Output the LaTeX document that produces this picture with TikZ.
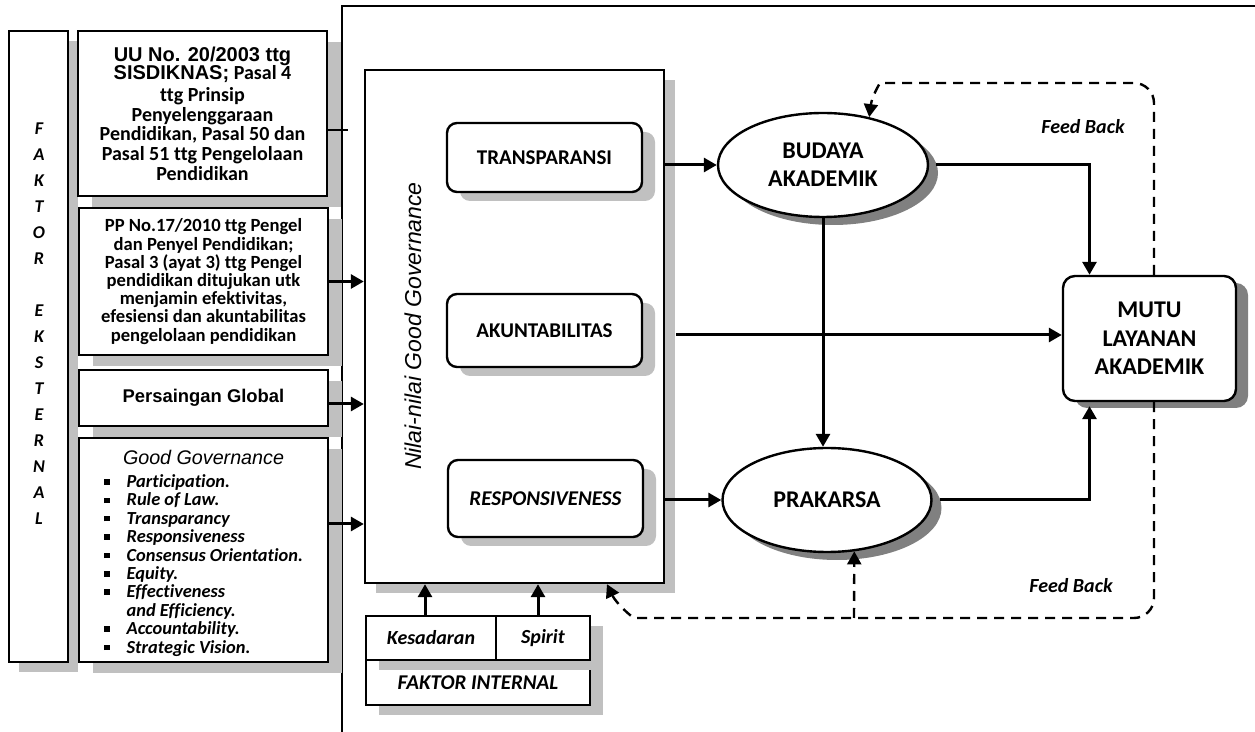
\documentclass[tikz,border=0pt]{standalone}
\usepackage{fontspec}
\setmainfont[Ligatures=NoCommon]{Carlito}
\newfontfamily\arial{Liberation Sans}
\usetikzlibrary{arrows.meta,shapes.geometric,shadows}
\definecolor{lightshade}{HTML}{C0C0C0}
\definecolor{darkshade}{HTML}{808080}
\newcommand{\gbul}{\rule[1.4pt]{2.8pt}{2.8pt}}

\begin{document}
\begin{tikzpicture}[x=0.5pt, y=-0.5pt,
  mybox/.style={draw, line width=1.2pt, fill=white, align=center, inner sep=1pt},
  myround/.style={mybox, rounded corners=5pt},
  myshade/.style 2 args={drop shadow={shadow xshift=#1, shadow yshift=#2, fill=lightshade, opacity=1}},
  mydark/.style 2 args={drop shadow={shadow xshift=#1, shadow yshift=#2, fill=darkshade, opacity=1}},
  myoval/.style={ellipse, draw, line width=1.2pt, fill=white, align=center, inner sep=0pt, mydark={5pt}{-4pt}},
  myvalue/.style={myround, myshade={6.5pt}{-4.5pt}, minimum width=97.5pt, font=\bfseries\fontsize{10.5}{12}\selectfont},
  myarrow/.style={-{Triangle[length=6.5pt,width=7pt]}, line width=1.5pt},
  myfeed/.style={myarrow, line width=1.2pt, dash pattern=on 5pt off 3.5pt}]
\useasboundingbox (0,0) rectangle (1255,732);

%frame
  \draw[line width=1.2pt] (342,732) -- (342,6) -- (1255,6);

%faktor eksternal
  \node[mybox, myshade={5pt}{-5pt}, minimum width=29.5pt, minimum height=315.5pt] (ekst) at (38.5,346.5) {};
  \node[font=\bfseries\itshape\fontsize{9}{13}\selectfont, align=center] (ekstlbl) at (39,323.5)
    {F\\A\\K\\T\\O\\R\\[13pt]E\\K\\S\\T\\E\\R\\N\\A\\L};

  \node[mybox, myshade={7pt}{-5.5pt}, minimum width=124.5pt, minimum height=82.5pt,
    font={\bfseries\fontsize{10}{9.8}\selectfont\lineskiplimit=-5pt}] (uu) at (202.5,113.5)
    {{\arial UU No. 20/2003 ttg}\\[-0.8pt]{\arial SISDIKNAS;} Pasal 4\\[1.4pt]ttg Prinsip\\Penyelenggaraan\\Pendidikan, Pasal 50 dan\\Pasal 51 ttg Pengelolaan\\Pendidikan};
  \node[mybox, myshade={7pt}{-5.5pt}, minimum width=124.5pt, minimum height=73.5pt,
    font={\bfseries\fontsize{9.3}{9.1}\selectfont\lineskiplimit=-5pt}] (pp) at (203.5,281.5)
    {PP No.17/2010 ttg Pengel\\dan Penyel Pendidikan;\\Pasal 3 (ayat 3) ttg Pengel\\pendidikan ditujukan utk\\menjamin efektivitas,\\efesiensi dan akuntabilitas\\pengelolaan pendidikan};
  \node[mybox, myshade={7pt}{-5.5pt}, minimum width=124.5pt, minimum height=28pt,
    font=\arial\bfseries\fontsize{9.2}{11}\selectfont] (glob) at (203.5,398) {Persaingan Global};
  \node[mybox, myshade={7pt}{-5.5pt}, minimum width=124.5pt, minimum height=112pt,
    font=\bfseries\itshape\fontsize{9.2}{9.15}\selectfont] (gg) at (203.5,550)
    {\rule{0pt}{11.5pt}{\arial\mdseries\fontsize{9.85}{9.15}\selectfont Good Governance}\\[2.35pt]
     \begin{tabular}[t]{@{}l@{\hspace{8.5pt}}l@{}}
     \gbul & Participation.\tabularnewline
     \gbul & Rule of Law.\tabularnewline
     \gbul & Transparancy\tabularnewline
     \gbul & Responsiveness\tabularnewline
     \gbul & Consensus Orientation.\tabularnewline
     \gbul & Equity.\tabularnewline
     \gbul & Effectiveness\tabularnewline
           & and Efficiency.\tabularnewline
     \gbul & Accountability.\tabularnewline
     \gbul & Strategic Vision.
     \end{tabular}};
  \coordinate (uuend) at (348,130);

%nilai good governance
  \node[mybox, myshade={5.5pt}{-5pt}, minimum width=149.5pt, minimum height=256.5pt] (nilai) at (514.5,326.5) {};
  \node[rotate=90, font=\arial\itshape\fontsize{11.5}{13}\selectfont] (nilaittl) at (413,326) {Nilai-nilai Good Governance};
  \node[myvalue, minimum height=34.5pt] (trans) at (544.5,157.5) {TRANSPARANSI};
  \node[myvalue, minimum height=36.5pt] (akun) at (544.5,330.5) {AKUNTABILITAS};
  \node[myvalue, minimum height=38.5pt, font=\bfseries\itshape\fontsize{10.5}{12}\selectfont] (resp) at (545.5,498.5) {RESPONSIVENESS};

%faktor internal
  \node[mybox, myshade={6.5pt}{-5pt}, minimum width=112pt, minimum height=22.5pt,
    font=\bfseries\itshape\fontsize{10.5}{12}\selectfont] (intern) at (478,682.5) {FAKTOR INTERNAL};
  \node[mybox, myshade={6.5pt}{-5pt}, minimum width=65pt, minimum height=22pt,
    font=\bfseries\itshape\fontsize{10}{12}\selectfont] (kesadaran) at (431,638) {Kesadaran};
  \node[mybox, myshade={6.5pt}{-5pt}, minimum width=47pt, minimum height=22pt,
    font=\bfseries\itshape\fontsize{10}{12}\selectfont] (spirit) at (543,638) {Spirit};

%outcomes
  \node[myoval, minimum width=105pt, minimum height=52pt, font=\bfseries\fontsize{12}{14}\selectfont] (budaya) at (823,165) {BUDAYA\\AKADEMIK};
  \node[myoval, minimum width=104.5pt, minimum height=52pt, font=\bfseries\fontsize{12}{14}\selectfont] (prakarsa) at (827,500) {PRAKARSA};
  \node[mybox, rounded corners=6pt, mydark={6pt}{-3.5pt}, minimum width=86.5pt, minimum height=62.5pt,
    font=\bfseries\fontsize{12}{14.2}\selectfont] (mutu) at (1149.5,338.5) {MUTU\\LAYANAN\\AKADEMIK};

  \node[font=\bfseries\itshape\fontsize{10}{12}\selectfont] (fbtop) at (1083,127) {Feed Back};
  \node[font=\bfseries\itshape\fontsize{10}{12}\selectfont] (fbbot) at (1071,586) {Feed Back};

%arrows
  \draw[line width=1pt] (uu.east |- uuend) -- (uuend);
  \draw[myarrow] (pp.east) -- (pp.east -| nilai.west);
  \draw[myarrow] ([yshift=-3pt]glob.east) -- ([yshift=-3pt]glob.east -| nilai.west);
  \draw[myarrow] ([yshift=13pt]gg.east) -- ([yshift=13pt]gg.east -| nilai.west);
  \draw[myarrow] ([xshift=-3pt]kesadaran.north) -- ([xshift=-3pt]kesadaran.north |- nilai.south);
  \draw[myarrow] ([xshift=-2.5pt]spirit.north) -- ([xshift=-2.5pt]spirit.north |- nilai.south);

  \draw[myarrow] (budaya.west -| nilai.east) -- (budaya.west);
  \draw[myarrow] ([xshift=5.5pt, yshift=1.75pt]nilai.east |- mutu.west) -- ([yshift=1.75pt]mutu.west);
  \draw[myarrow] (prakarsa.west -| nilai.east) -- (prakarsa.west);
  \draw[myarrow] (budaya.south) -- (budaya.south |- prakarsa.north);
  \draw[myarrow] ([xshift=3.5pt]budaya.east) -| ([xshift=-30pt]mutu.north);
  \draw[myarrow] ([xshift=3.5pt]prakarsa.east) -| ([xshift=-30pt, yshift=-2pt]mutu.south);

%feed back
  \coordinate (fbnw) at (900,83);
  \coordinate (fbjoin) at (854,618);
  \coordinate (fbcurve) at (655,618);
  \draw[myfeed, rounded corners=10pt] ([xshift=2.25pt]mutu.north) -- ([xshift=2.25pt]mutu.north |- fbnw) -- (fbnw)
    .. controls (880,83) and (872,96) .. (budaya.46);
  \draw[myfeed, rounded corners=10pt] ([xshift=2.25pt]mutu.south) -- ([xshift=2.25pt]mutu.south |- fbjoin) -- (fbcurve)
    .. controls (632,618) and (616,603) .. ([xshift=46.25pt]nilai.south);
  \draw[myfeed] (fbjoin) -- (prakarsa.-62);
\end{tikzpicture}
\end{document}
